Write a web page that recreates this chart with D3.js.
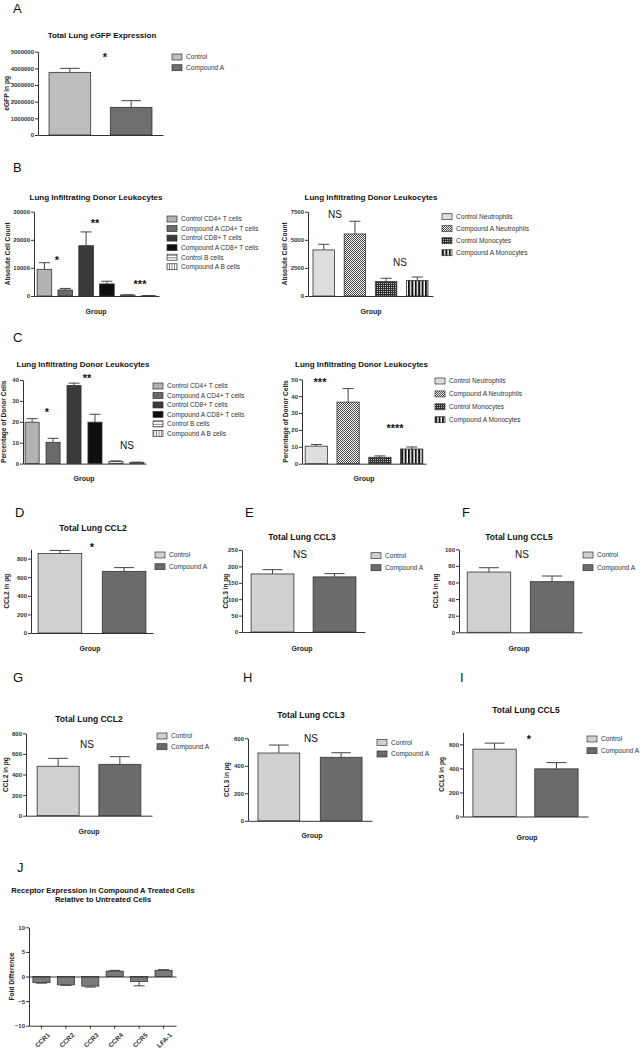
<!DOCTYPE html>
<html>
<head>
<meta charset="utf-8">
<script src="https://cdn.jsdelivr.net/npm/d3@7"></script>
<style>
body { margin: 0; background: #fff; }
svg { display: block; font-family: "Liberation Sans", Arial, sans-serif; }
</style>
</head>
<body>
<svg id="fig" width="642" height="1050"></svg>
<script>
// ---- data ----
const groupCats = ["Control", "Compound A"]

const egfpVals = [3760000, 1660000]
const egfpSem = [240000, 400000]
const egfpTicks = [0, 1000000, 2000000, 3000000, 4000000, 5000000]

const tCellCats = ["Control CD4+ T cells", "Compound A CD4+ T cells", "Control CD8+ T cells",
  "Compound A CD8+ T cells", "Control B cells", "Compound A B cells"]
const tCellCountVals = [9500, 2150, 17900, 4300, 350, 100]
const tCellCountSem = [2350, 550, 4900, 950, 80, 30]
const tCellCountTicks = [0, 10000, 20000, 30000]

const myeloidCats = ["Control Neutrophils", "Compound A Neutrophils", "Control Monocytes", "Compound A Monocytes"]
const myeloidCountVals = [4100, 5520, 1280, 1370]
const myeloidCountSem = [500, 1130, 300, 320]
const myeloidCountTicks = [0, 2500, 5000, 7500]

const tCellPctVals = [19.8, 10.2, 37.4, 19.8, 1.0, 0.5]
const tCellPctSem = [1.7, 1.9, 1.1, 3.8, 0.3, 0.2]
const tCellPctTicks = [0, 10, 20, 30, 40]

const myeloidPctVals = [10.4, 36.5, 3.8, 8.7]
const myeloidPctSem = [1.0, 8.0, 0.8, 1.2]
const myeloidPctTicks = [0, 10, 20, 30, 40, 50]

const ccl2Vals1 = [855, 663], ccl2Sem1 = [33, 40]
const ccl3Vals1 = [177, 168], ccl3Sem1 = [13, 10]
const ccl5Vals1 = [72.6, 61], ccl5Sem1 = [5.2, 6.8]
const ccl2Ticks1 = [0, 200, 400, 600, 800]
const ccl3Ticks1 = [0, 50, 100, 150, 200, 250]
const ccl5Ticks1 = [0, 20, 40, 60, 80, 100]

const ccl2Vals2 = [480, 499], ccl2Sem2 = [77, 74]
const ccl3Vals2 = [493, 462], ccl3Sem2 = [58, 33]
const ccl5Vals2 = [560, 396], ccl5Sem2 = [50, 52]
const ccl2Ticks2 = [0, 200, 400, 600, 800]
const ccl3Ticks2 = [0, 200, 400, 600]
const ccl5Ticks2 = [0, 200, 400, 600]

const receptorCats = ["CCR1", "CCR2", "CCR3", "CCR4", "CCR5", "LFA-1"]
const foldVals = [-1.25, -1.7, -1.95, 1.1, -1.0, 1.25]
const foldSem = [0.1, 0.1, 0.2, 0.15, 0.9, 0.15]
const foldTicks = [-10, -5, 0, 5, 10]

const svg = d3.select("#fig")
const defs = svg.append("defs")

// fill patterns for B cells, neutrophils, monocytes
function pattern(id, w, h, bg) {
  const p = defs.append("pattern").attr("id", id)
    .attr("patternUnits", "userSpaceOnUse").attr("width", w).attr("height", h)
  p.append("rect").attr("width", w).attr("height", h).attr("fill", bg)
  return p
}
pattern("hlines", 4, 2.6, "#fff")
  .append("rect").attr("y", 0).attr("width", 4).attr("height", 0.8).attr("fill", "#666")
pattern("vlines", 2.6, 4, "#fff")
  .append("rect").attr("x", 0).attr("width", 0.8).attr("height", 4).attr("fill", "#666")
const chk = pattern("checker", 2, 2, "#fff")
chk.append("rect").attr("width", 1).attr("height", 1).attr("fill", "#444")
chk.append("rect").attr("x", 1).attr("y", 1).attr("width", 1).attr("height", 1).attr("fill", "#444")
const grd = pattern("grid", 2, 2, "#2e2e2e")
grd.append("rect").attr("x", 1).attr("y", 1).attr("width", 1).attr("height", 1).attr("fill", "#bbb")
pattern("vstripes", 3.4, 4, "#fff")
  .append("rect").attr("width", 2).attr("height", 4).attr("fill", "#111")

const pairFills = ["#bdbdbd", "#6e6e6e"]
const pairFills2 = ["#d0d0d0", "#6b6b6b"]
const tCellFills = ["#b3b3b3", "#6a6a6a", "#3a3a3a", "#0e0e0e", "url(#hlines)", "url(#vlines)"]
const myeloidFills = ["#dedede", "url(#checker)", "url(#grid)", "url(#vstripes)"]

const ink = "#222"

const panels = [
  { letter: "A", lx: 13, ly: 13, title: ["Total Lung eGFP Expression"], tx: 102, ty: 37.5, ts: 8,
    cats: groupCats, vals: egfpVals, sem: egfpSem, ticks: egfpTicks, fills: pairFills,
    x0: 38, x1: 163, pad: [0.32, 0.18], yTop: 51.7, yBot: 135,
    ylab: "eGFP in pg", ylx: 7, legend: { x: 172, y: 57, dy: 10.7 },
    marks: [["*", 105, 55]] },
  { letter: "B", lx: 13, ly: 172, title: ["Lung Infiltrating Donor Leukocytes"], tx: 96, ty: 200, ts: 8,
    cats: tCellCats, vals: tCellCountVals, sem: tCellCountSem, ticks: tCellCountTicks, fills: tCellFills,
    x0: 34, x1: 159, pad: [0.3, 0.15], yTop: 211.7, yBot: 296,
    ylab: "Absolute Cell Count", ylx: 8, xlab: [96, 314], legend: { x: 167, y: 219, dy: 9.55 },
    marks: [["*", 57, 258], ["**", 95, 221], ["***", 140, 282]] },
  { title: ["Lung Infiltrating Donor Leukocytes"], tx: 371, ty: 200, ts: 8,
    cats: myeloidCats, vals: myeloidCountVals, sem: myeloidCountSem, ticks: myeloidCountTicks, fills: myeloidFills,
    x0: 308, x1: 433, pad: [0.31, 0.16], yTop: 211.7, yBot: 296,
    ylab: "Absolute Cell Count", ylx: 285, xlab: [371, 314], legend: { x: 442, y: 216.7, dy: 12 },
    marks: [["NS", 335, 214], ["NS", 400, 262]] },
  { letter: "C", lx: 13, ly: 341.7, title: ["Lung Infiltrating Donor Leukocytes"], tx: 83, ty: 366.7, ts: 8,
    cats: tCellCats, vals: tCellPctVals, sem: tCellPctSem, ticks: tCellPctTicks, fills: tCellFills,
    x0: 23, x1: 146, pad: [0.33, 0.1], yTop: 380, yBot: 463.6,
    ylab: "Percentage of Donor Cells", ylx: 4, xlab: [84, 481], legend: { x: 153, y: 386, dy: 9.47 },
    marks: [["*", 47, 410], ["**", 87, 376], ["NS", 127, 445.7]] },
  { title: ["Lung Infiltrating Donor Leukocytes"], tx: 361.5, ty: 366.7, ts: 8,
    cats: myeloidCats, vals: myeloidPctVals, sem: myeloidPctSem, ticks: myeloidPctTicks, fills: myeloidFills,
    x0: 302, x1: 426, pad: [0.3, 0.1], yTop: 379.3, yBot: 463.7,
    ylab: "Percentage of Donor Cells", ylx: 286, xlab: [364, 481], legend: { x: 435, y: 381, dy: 12.9 },
    marks: [["***", 320, 380], ["****", 395, 425.7]] },
  { letter: "D", lx: 15, ly: 516.7, title: ["Total Lung CCL2"], tx: 93, ty: 530.7, ts: 8.5,
    cats: groupCats, vals: ccl2Vals1, sem: ccl2Sem1, ticks: ccl2Ticks1, fills: pairFills2, dmax: 900,
    x0: 31, x1: 153, pad: [0.32, 0.11], yTop: 549.3, yBot: 633,
    ylab: "CCL2  in pg", ylx: 7, xlab: [90, 650.5], legend: { x: 155, y: 555, dy: 11.7 },
    marks: [["*", 92, 545]] },
  { letter: "E", lx: 245, ly: 516.7, title: ["Total Lung CCL3"], tx: 302, ty: 540, ts: 8.5,
    cats: groupCats, vals: ccl3Vals1, sem: ccl3Sem1, ticks: ccl3Ticks1, fills: pairFills2,
    x0: 242, x1: 365, pad: [0.31, 0.146], yTop: 550, yBot: 632,
    ylab: "CCL3 in pg", ylx: 226, xlab: [302, 650.5], legend: { x: 371, y: 555.7, dy: 12 },
    marks: [["NS", 300, 554]] },
  { letter: "F", lx: 462, ly: 516.7, title: ["Total Lung CCL5"], tx: 519, ty: 540, ts: 8.5,
    cats: groupCats, vals: ccl5Vals1, sem: ccl5Sem1, ticks: ccl5Ticks1, fills: pairFills2,
    x0: 459, x1: 582, pad: [0.31, 0.13], yTop: 549.3, yBot: 632.3,
    ylab: "CCL5 in pg", ylx: 436, xlab: [519, 650.5], legend: { x: 583, y: 555, dy: 12.7 },
    marks: [["NS", 522, 554]] },
  { letter: "G", lx: 13, ly: 681.7, title: ["Total Lung CCL2"], tx: 89, ty: 722.3, ts: 8.5,
    cats: groupCats, vals: ccl2Vals2, sem: ccl2Sem2, ticks: ccl2Ticks2, fills: pairFills2,
    x0: 26, x1: 152, pad: [0.32, 0.18], yTop: 733.3, yBot: 815.7,
    ylab: "CCL2 in pg", ylx: 6, xlab: [89, 833.5], legend: { x: 157, y: 736, dy: 10.7 },
    marks: [["NS", 87, 744]] },
  { letter: "H", lx: 243, ly: 681.7, title: ["Total Lung CCL3"], tx: 311, ty: 718.3, ts: 8.5,
    cats: groupCats, vals: ccl3Vals2, sem: ccl3Sem2, ticks: ccl3Ticks2, fills: pairFills2,
    x0: 248, x1: 372, pad: [0.33, 0.16], yTop: 738.3, yBot: 820.8,
    ylab: "CCL3 in pg", ylx: 227, xlab: [312, 838], legend: { x: 377, y: 742.3, dy: 11.7 },
    marks: [["NS", 311, 738]] },
  { letter: "I", lx: 460, ly: 681.7, title: ["Total Lung CCL5"], tx: 526, ty: 712.7, ts: 8.5,
    cats: groupCats, vals: ccl5Vals2, sem: ccl5Sem2, ticks: ccl5Ticks2, fills: pairFills2, dmax: 700,
    x0: 463, x1: 588, pad: [0.3, 0.16], yTop: 732.3, yBot: 816.5,
    ylab: "CCL5 in pg", ylx: 442, xlab: [527, 840], legend: { x: 587, y: 739, dy: 11.7 },
    marks: [["*", 529, 737]] },
  { letter: "J", lx: 17, ly: 871.7, title: ["Receptor Expression in Compound A Treated Cells", "Relative to Untreated Cells"],
    tx: 103, ty: 892.7, ts: 7.6, fold: true,
    cats: receptorCats, vals: foldVals, sem: foldSem, ticks: foldTicks, fills: ["#7b7b7b"],
    x0: 29, x1: 176, pad: [0.3, 0.16], yTop: 927.3, yBot: 1025.7,
    ylab: "Fold  Difference", ylx: 12, marks: [] }
]

function drawPanel(p) {
  const g = svg.append("g")
  const dmin = d3.min(p.ticks), dmax = p.dmax || d3.max(p.ticks)
  const x = d3.scaleBand().domain(p.cats).range([p.x0, p.x1])
    .paddingInner(p.pad[0]).paddingOuter(p.pad[1])
  const y = d3.scaleLinear().domain([dmin, dmax]).range([p.yBot, p.yTop])
  const fill = i => p.fills[i % p.fills.length]

  if (p.letter) {
    g.append("text").text(p.letter).attr("x", p.lx).attr("y", p.ly)
      .attr("font-size", 13).attr("fill", "#111")
  }
  p.title.forEach((t, i) => {
    g.append("text").text(t).attr("x", p.tx).attr("y", p.ty + i * 9.6)
      .attr("text-anchor", "middle").attr("font-size", p.ts).attr("font-weight", "bold").attr("fill", "#111")
  })

  // bars
  g.selectAll("rect.bar").data(p.vals).join("rect").attr("class", "bar")
    .attr("x", (d, i) => x(p.cats[i]))
    .attr("width", x.bandwidth())
    .attr("y", d => Math.min(y(d), y(0)))
    .attr("height", d => Math.abs(y(d) - y(0)))
    .attr("fill", (d, i) => fill(i))
    .attr("stroke", "#333").attr("stroke-width", 0.8)

  // error bars, one-sided
  const cap = Math.max(11, Math.min(20, x.bandwidth() * 0.47))
  const eg = g.append("g").attr("stroke", "#444").attr("stroke-width", 1).attr("fill", "none")
  p.vals.forEach((v, i) => {
    const cx = x(p.cats[i]) + x.bandwidth() / 2
    const end = v >= 0 ? v + p.sem[i] : v - p.sem[i]
    eg.append("line").attr("x1", cx).attr("x2", cx).attr("y1", y(v)).attr("y2", y(end))
    eg.append("line").attr("x1", cx - cap / 2).attr("x2", cx + cap / 2).attr("y1", y(end)).attr("y2", y(end))
  })

  // y axis
  const ya = g.append("g").attr("transform", `translate(${p.x0},0)`)
    .call(d3.axisLeft(y).tickValues(p.ticks).tickFormat(d3.format("d")).tickSize(3).tickSizeOuter(0).tickPadding(1))
  ya.select(".domain").attr("stroke", "#333")
  ya.selectAll(".tick line").attr("stroke", "#333")
  ya.selectAll(".tick text").attr("font-size", 6).attr("font-weight", "bold").attr("fill", "#333")
    .attr("font-family", "Liberation Sans, Arial, sans-serif")

  // x axis line at zero
  const xa = g.append("g").attr("transform", `translate(0,${y(0)})`)
    .call(d3.axisBottom(x).tickValues([]).tickSizeOuter(0))
  xa.select(".domain").attr("stroke", "#333")

  if (p.fold) {
    const xb = g.append("g").attr("transform", `translate(0,${p.yBot})`)
      .call(d3.axisBottom(x).tickSize(3).tickSizeOuter(0).tickPadding(2))
    xb.select(".domain").attr("stroke", "#333")
    xb.selectAll(".tick line").attr("stroke", "#333")
    xb.selectAll(".tick text")
      .attr("font-size", 6.5).attr("font-weight", "bold").attr("fill", "#333")
      .attr("font-family", "Liberation Sans, Arial, sans-serif")
      .attr("text-anchor", "end").attr("dy", "0.5em")
      .attr("transform", "translate(3,4) rotate(-45)")
  }

  // y label
  g.append("text").text(p.ylab)
    .attr("transform", `translate(${p.ylx},${(p.yTop + p.yBot) / 2}) rotate(-90)`)
    .attr("dy", "0.35em").attr("text-anchor", "middle")
    .attr("font-size", 6.6).attr("font-weight", "bold").attr("fill", ink)

  if (p.xlab) {
    g.append("text").text("Group").attr("x", p.xlab[0]).attr("y", p.xlab[1])
      .attr("text-anchor", "middle").attr("font-size", 7).attr("font-weight", "bold").attr("fill", ink)
  }

  // legend
  if (p.legend) {
    const lg = g.append("g")
    p.cats.forEach((c, i) => {
      const ly = p.legend.y + i * p.legend.dy
      lg.append("rect").attr("x", p.legend.x).attr("y", ly - 3).attr("width", 10).attr("height", 6)
        .attr("fill", fill(i)).attr("stroke", "#333").attr("stroke-width", 0.7)
      lg.append("text").text(c).attr("x", p.legend.x + 14).attr("y", ly).attr("dy", "0.35em")
        .attr("font-size", 6.6).attr("fill", "#333")
    })
  }

  // significance marks
  p.marks.forEach(([t, mx, my]) => {
    const star = t.startsWith("*")
    g.append("text").text(t).attr("x", mx).attr("y", star ? my + 6.2 : my + 3.6)
      .attr("text-anchor", "middle")
      .attr("font-size", star ? 11 : 10).attr("font-weight", star ? "bold" : "normal").attr("fill", "#111")
  })
}

panels.forEach(drawPanel)
</script>
</body>
</html>
